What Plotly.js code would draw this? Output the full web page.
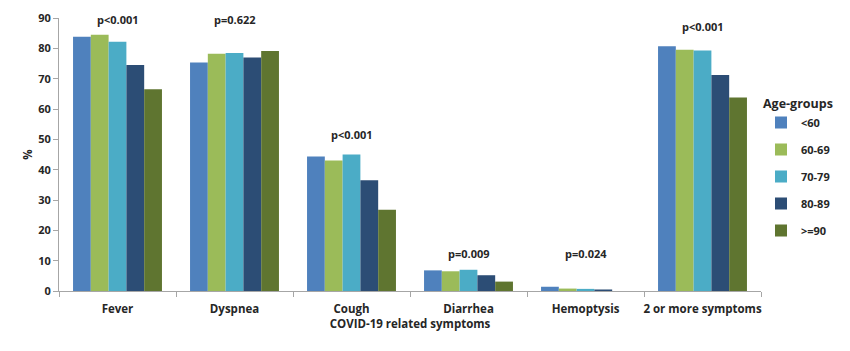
<!DOCTYPE html>
<html>
<head>
<meta charset="utf-8">
<script src="https://cdn.plot.ly/plotly-3.0.1.min.js"></script>
<style>html,body{margin:0;padding:0;background:#fff;}#chart{width:850px;height:351px;}</style>
</head>
<body>
<div id="chart"></div>
<script>
const categories = ["Fever", "Dyspnea", "Cough", "Diarrhea", "Hemoptysis", "2 or more symptoms"];
const groups = ["<60", "60-69", "70-79", "80-89", ">=90"];
const valsUnder60 = [83.8, 75.3, 44.3, 6.8, 1.4, 80.7];
const vals60_69 = [84.5, 78.2, 43.0, 6.5, 0.8, 79.5];
const vals70_79 = [82.2, 78.5, 45.0, 7.0, 0.7, 79.3];
const vals80_89 = [74.5, 77.0, 36.5, 5.2, 0.5, 71.2];
const vals90plus = [66.5, 79.1, 26.8, 3.1, 0.0, 63.8];
const pLabels = ["p<0.001", "p=0.622", "p<0.001", "p=0.009", "p=0.024", "p<0.001"];
const pLabelY = [89.5, 89.5, 51.5, 12.5, 12.5, 87.3];

const seriesVals = [valsUnder60, vals60_69, vals70_79, vals80_89, vals90plus];
const colors = ["#4F81BD", "#9BBB59", "#4BACC6", "#2C4D75", "#5F7530"];
const font = "Open Sans, Noto Sans, sans-serif";

const traces = groups.map((g, i) => ({
  type: "bar",
  name: g,
  x: categories,
  y: seriesVals[i],
  marker: {color: colors[i], line: {width: 0}},
  legendgroup: "g" + i,
  hoverinfo: "y"
}));

const annotations = categories.map((c, i) => ({
  x: c, y: pLabelY[i], xref: "x", yref: "y",
  text: "<b>" + pLabels[i] + "</b>", showarrow: false,
  font: {family: font, size: 11, color: "#262626"}
}));

const layout = {
  width: 850, height: 351,
  margin: {l: 59, r: 89, t: 18, b: 60},
  paper_bgcolor: "#fff", plot_bgcolor: "#fff",
  barmode: "group",
  bargap: 0.24,
  bargroupgap: 0,
  font: {family: font, size: 11, color: "#262626"},
  showlegend: true,
  legend: {
    title: {text: "<b>Age-groups</b>", font: {family: font, size: 12.5, color: "#262626"}},
    x: 1.0, xanchor: "left", y: 0.73, yanchor: "top",
    font: {family: font, size: 11, color: "#262626", weight: "bold"},
    tracegroupgap: 8,
    itemwidth: 30,
    bgcolor: "rgba(0,0,0,0)"
  },
  xaxis: {
    type: "category",
    showline: true, linecolor: "#A6A6A6", linewidth: 1,
    ticks: "outside", tickson: "boundaries", ticklen: 5, tickcolor: "#A6A6A6",
    tickangle: 0,
    ticklabelstandoff: 7,
    tickfont: {family: font, size: 11.5, color: "#262626", weight: "bold"},
    title: {text: "<b>COVID-19 related symptoms</b>", font: {family: font, size: 11.5, color: "#262626"}, standoff: 5},
    showgrid: false, zeroline: false
  },
  yaxis: {
    range: [0, 90], dtick: 10,
    showline: true, linecolor: "#A6A6A6", linewidth: 1,
    ticks: "outside", ticklen: 5, tickcolor: "#A6A6A6",
    tickfont: {family: font, size: 11, color: "#262626", weight: "bold"},
    title: {text: "<b>%</b>", font: {family: font, size: 11.5, color: "#262626"}, standoff: 3},
    showgrid: false, zeroline: false
  },
  annotations: annotations
};

Plotly.newPlot("chart", traces, layout, {displayModeBar: false, staticPlot: true});
</script>
</body>
</html>
